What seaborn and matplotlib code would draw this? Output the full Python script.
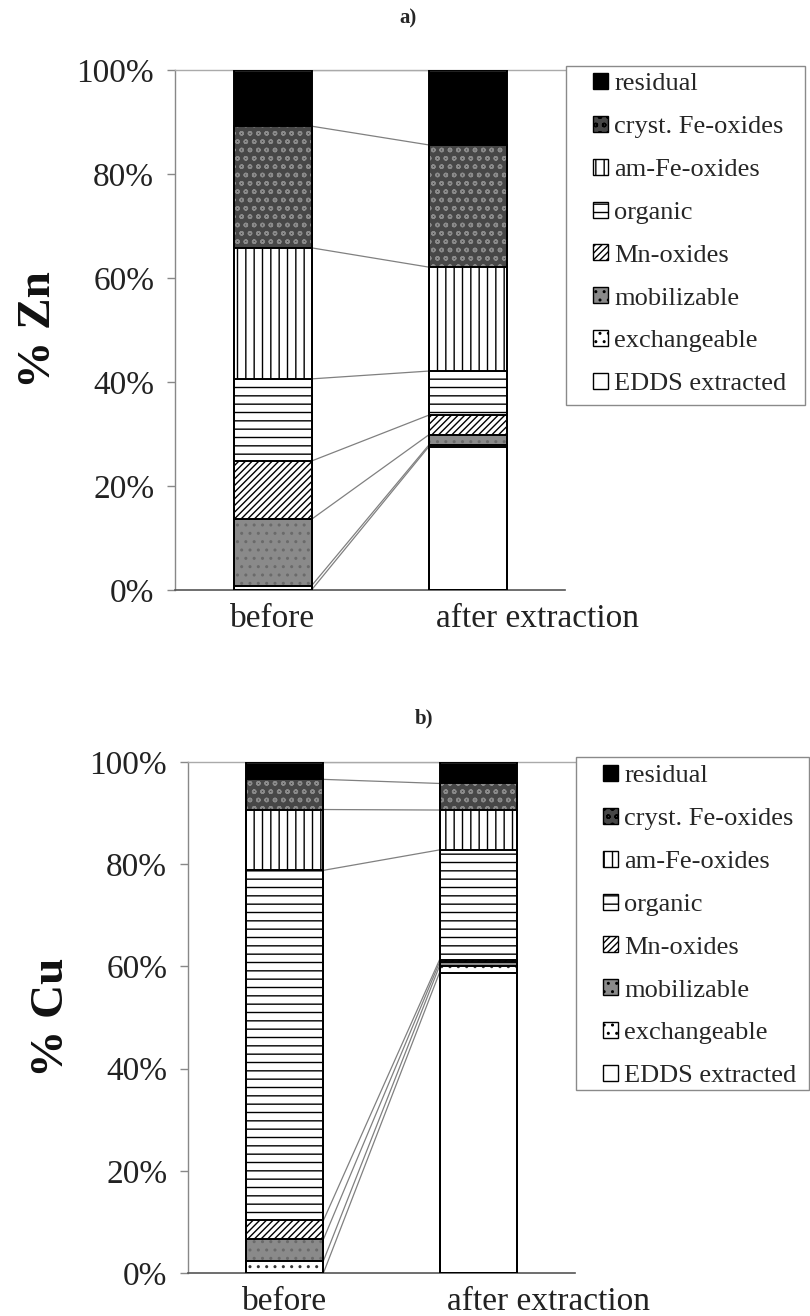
import numpy as np
import pandas as pd
import matplotlib
matplotlib.use("Agg")
import matplotlib.pyplot as plt
import matplotlib.transforms as mtransforms
import seaborn as sns
from matplotlib.patches import Patch, Rectangle
from matplotlib.ticker import FuncFormatter

# ---- data -------------------------------------------------------------
stages = ["before", "after extraction"]
fractions = ["EDDS extracted", "exchangeable", "mobilizable", "Mn-oxides",
             "organic", "am-Fe-oxides", "cryst. Fe-oxides", "residual"]

# share of each fraction (%), listed bottom to top of the stack
zn_before = [0.0, 0.8, 12.8, 11.2, 15.8, 25.2, 23.4, 10.8]
zn_after = [27.5, 0.3, 2.0, 3.8, 8.5, 20.0, 23.5, 14.4]
cu_before = [0.0, 2.4, 4.2, 3.7, 68.5, 11.9, 5.9, 3.4]
cu_after = [58.8, 1.3, 0.7, 0.5, 21.5, 7.8, 5.2, 4.2]

yticks = [0, 20, 40, 60, 80, 100]

# ---- styling -----------------------------------------------------------
# fraction -> (face colour, hatch, hatch colour)
styles = {
    "EDDS extracted": ("white", None, "black"),
    "exchangeable": ("white", "..", "#333333"),
    "mobilizable": ("#8a8a8a", "..", "#6a6a6a"),
    "Mn-oxides": ("white", "/////", "black"),
    "organic": ("white", "--", "black"),
    "am-Fe-oxides": ("white", "||", "black"),
    "cryst. Fe-oxides": ("#474747", "oo", "#8a8a8a"),
    "residual": ("black", None, "black"),
}

sns.set_style("white")
plt.rcParams["font.family"] = ["Liberation Serif", "DejaVu Serif"]
plt.rcParams["hatch.linewidth"] = 1.0

W, H = 810, 1316
fig = plt.figure(figsize=(W / 100, H / 100), dpi=100)


def px_rect(left, top, right, bottom):
    return [left / W, 1 - bottom / H, (right - left) / W, (bottom - top) / H]


def draw_panel(ax, before, after, ylabel):
    df = pd.DataFrame({
        "stage": np.repeat(stages, len(fractions)),
        "fraction": fractions * 2,
        "value": list(before) + list(after),
    })
    df["cum"] = df.groupby("stage", sort=False)["value"].cumsum()

    # connector lines between segment tops of the two columns
    for frac in fractions:
        sub = df[df.fraction == frac].set_index("stage").loc[stages]
        ax.plot([0 + 0.2, 1 - 0.2], sub["cum"].values, color="#808080",
                lw=0.9, zorder=1)

    # stacked columns: cumulative bars drawn from the top fraction downward
    for frac in reversed(fractions):
        sub = df[df.fraction == frac]
        fc, hatch, hc = styles[frac]
        sns.barplot(data=sub, x="stage", y="cum", order=stages, color=fc,
                    saturation=1, width=0.4, hatch=hatch, edgecolor=hc,
                    linewidth=0, errorbar=None, ax=ax, zorder=2)
        sns.barplot(data=sub, x="stage", y="cum", order=stages, fill=False,
                    color="black", width=0.4, linewidth=1.4, errorbar=None,
                    ax=ax, zorder=3)

    ax.set_xlim(-0.5, 1.5)
    ax.set_ylim(0, 100)
    ax.set_yticks(yticks)
    ax.yaxis.set_major_formatter(FuncFormatter(lambda v, p: f"{v:.0f}%"))
    ax.tick_params(axis="y", left=True, length=6, width=1, color="#888888",
                   direction="out", pad=9, labelsize=24, labelcolor="#222222")
    ax.tick_params(axis="x", bottom=False, length=0, pad=10, labelsize=24,
                   labelcolor="#222222")
    # the second category label sits to the right of its column
    shift = mtransforms.ScaledTranslation(70 / 100, 0, fig.dpi_scale_trans)
    lab = ax.get_xticklabels()[1]
    lab.set_transform(lab.get_transform() + shift)
    ax.set_xlabel("")
    ax.set_ylabel(ylabel, fontsize=34, fontweight="bold", labelpad=12,
                  color="#111111")
    ax.spines["right"].set_visible(False)
    ax.spines["top"].set_color("#aaaaaa")
    ax.spines["top"].set_linewidth(1.0)
    ax.spines["left"].set_color("#888888")
    ax.spines["left"].set_linewidth(1.0)
    ax.spines["bottom"].set_color("#555555")
    ax.spines["bottom"].set_linewidth(1.2)
    ax.grid(False)


def add_legend(box, anchor):
    handles = []
    for frac in reversed(fractions):
        fc, hatch, hc = styles[frac]
        handles.append(Patch(facecolor=fc, hatch=hatch if hatch else None,
                             edgecolor="black", linewidth=1.0, label=frac))
    fig.legend(handles=handles, loc="upper left",
               bbox_to_anchor=(anchor[0] / W, 1 - anchor[1] / H),
               bbox_transform=fig.transFigure, frameon=False, borderpad=0,
               borderaxespad=0, handlelength=0.55, handleheight=0.55,
               handletextpad=0.25, labelspacing=0.78,
               prop={"family": "Liberation Serif", "size": 19})
    l, t, r, b = box
    fig.add_artist(Rectangle((l / W, 1 - b / H), (r - l) / W, (b - t) / H,
                             transform=fig.transFigure, fill=False,
                             edgecolor="#8a8a8a", linewidth=1.0))


ax1 = fig.add_axes(px_rect(175, 70, 565, 590))
draw_panel(ax1, zn_before, zn_after, "% Zn")
add_legend((566, 66, 805, 405), (593, 73))

ax2 = fig.add_axes(px_rect(188, 762, 575, 1273))
draw_panel(ax2, cu_before, cu_after, "% Cu")
add_legend((576, 757, 809, 1090), (603, 765))

fig.text(408 / W, 1 - 18 / H, "a)", ha="center", va="center",
         fontsize=15, fontweight="bold")
fig.text(424 / W, 1 - 718 / H, "b)", ha="center", va="center",
         fontsize=15, fontweight="bold")

fig.savefig("out.png", dpi=100)
